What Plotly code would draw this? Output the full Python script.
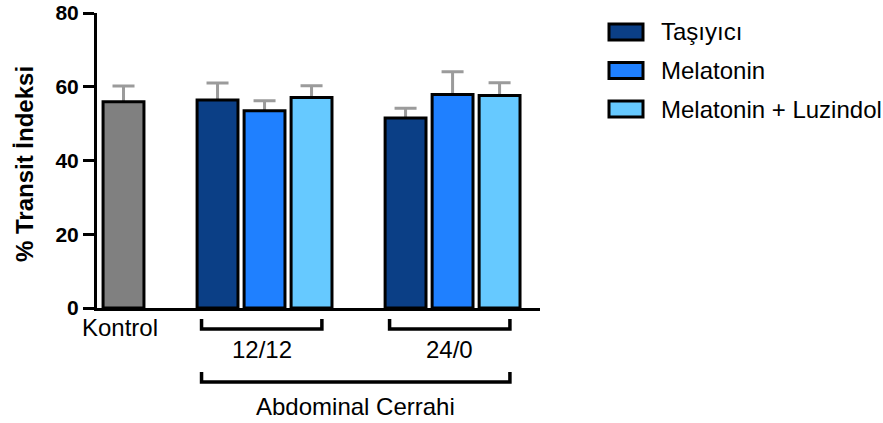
import plotly.graph_objects as go

# ---- data ----
series = ["Kontrol", "Taşıyıcı", "Melatonin", "Melatonin + Luzindol"]
colors = ["#808080", "#0B3F86", "#1F80FF", "#66C9FF"]
groups = ["12/12", "24/0"]
kontrol_mean = [55.9]
kontrol_err = [4.3]
tasiyici_mean = [56.4, 51.5]
tasiyici_err = [4.6, 2.7]
melatonin_mean = [53.5, 57.9]
melatonin_err = [2.7, 6.2]
mel_luz_mean = [57.1, 57.6]
mel_luz_err = [3.2, 3.5]
y_ticks = [0, 20, 40, 60, 80]

# slot positions (layout)
kontrol_x = [0]
group_centers = [3, 7]
offsets = [-1, 0, 1]
XR = [-0.564, 8.86]
YR = [0, 80]

FONT = "Liberation Sans, Arial, Helvetica, sans-serif"
ERR = dict(type="data", symmetric=True, color="#9B9B9B", thickness=3, width=11)

fig = go.Figure()

def add_series(xs, ys, es, name, color):
    # error bars first (carried by an invisible bar), so the visible bar hides the lower half
    fig.add_trace(go.Bar(
        x=xs, y=ys, width=0.87, name=name, hoverinfo="skip",
        marker=dict(color="rgba(0,0,0,0)", line=dict(width=0)),
        error_y=dict(array=es, **ERR), showlegend=False))
    fig.add_trace(go.Bar(
        x=xs, y=ys, width=0.87, name=name,
        marker=dict(color=color, line=dict(color="black", width=3)),
        showlegend=False))

add_series(kontrol_x, kontrol_mean, kontrol_err, series[0], colors[0])
for i, (m, e) in enumerate([(tasiyici_mean, tasiyici_err),
                            (melatonin_mean, melatonin_err),
                            (mel_luz_mean, mel_luz_err)]):
    add_series([c + offsets[i] for c in group_centers], m, e, series[i + 1], colors[i + 1])

W, H = 883, 423
L, R, T, B = 97, 343, 13, 115
pw, ph = W - L - R, H - T - B

def px_x(px):
    return (px - L) / pw

def px_y(py):
    return (H - B - py) / ph

def dx(x):
    return (x - XR[0]) / (XR[1] - XR[0])

shapes = []
annotations = []
TXT = dict(size=24, color="black", family=FONT)

# brackets
def bracket(x0, x1, ytop, ybot):
    p = [dx(x0), dx(x1)]
    path = (f"M{p[0]},{px_y(ytop)} L{p[0]},{px_y(ybot)} L{p[1]},{px_y(ybot)} L{p[1]},{px_y(ytop)}")
    shapes.append(dict(type="path", xref="paper", yref="paper", path=path,
                       line=dict(color="black", width=3.5)))

for c, g in zip(group_centers, groups):
    bracket(c - 1.34, c + 1.22, 319, 329)
    annotations.append(dict(x=dx(c - 0.06), y=px_y(349), xref="paper", yref="paper",
                            text=g, showarrow=False, font=TXT,
                            xanchor="center", yanchor="middle"))
bracket(group_centers[0] - 1.34, group_centers[1] + 1.22, 372, 382)
annotations.append(dict(x=dx((group_centers[0] + group_centers[1]) / 2 - 0.06), y=px_y(406),
                        xref="paper", yref="paper", text="Abdominal Cerrahi", showarrow=False,
                        font=TXT, xanchor="center", yanchor="middle"))
annotations.append(dict(x=px_x(120), y=px_y(327), xref="paper", yref="paper",
                        text=series[0], showarrow=False, font=TXT,
                        xanchor="center", yanchor="middle"))

# y-axis title
annotations.append(dict(x=px_x(25), y=px_y(164), xref="paper", yref="paper",
                        text="<b>% Transit İndeksi</b>", showarrow=False, textangle=-90,
                        font=dict(size=24, color="black", family=FONT),
                        xanchor="center", yanchor="middle"))

# manual legend
for i in range(3):
    yc = 32 + i * 38.5
    shapes.append(dict(type="rect", xref="paper", yref="paper",
                       x0=px_x(609), x1=px_x(643), y0=px_y(yc - 8), y1=px_y(yc + 8),
                       fillcolor=colors[i + 1], line=dict(color="black", width=3)))
    annotations.append(dict(x=px_x(659), y=px_y(yc), xref="paper", yref="paper",
                            text=series[i + 1], showarrow=False, xanchor="left", yanchor="middle",
                            font=TXT))

fig.update_layout(
    width=W, height=H, margin=dict(l=L, r=R, t=T, b=B, autoexpand=False),
    paper_bgcolor="white", plot_bgcolor="white",
    barmode="overlay", shapes=shapes, annotations=annotations,
    showlegend=False,
    xaxis=dict(range=XR, showticklabels=False, ticks="", showgrid=False, zeroline=False,
               showline=True, linecolor="black", linewidth=3, automargin=False),
    yaxis=dict(range=YR, tickvals=y_ticks, ticks="outside", ticklen=11, tickwidth=3,
               tickcolor="black", showgrid=False, zeroline=False, showline=True,
               linecolor="black", linewidth=3, automargin=False, ticklabeloverflow="allow",
               tickfont=dict(size=21, color="black", family=FONT, weight="bold")),
)
fig.write_html("out.html", config={"displayModeBar": False},
               post_script="document.body.style.margin='0';")
